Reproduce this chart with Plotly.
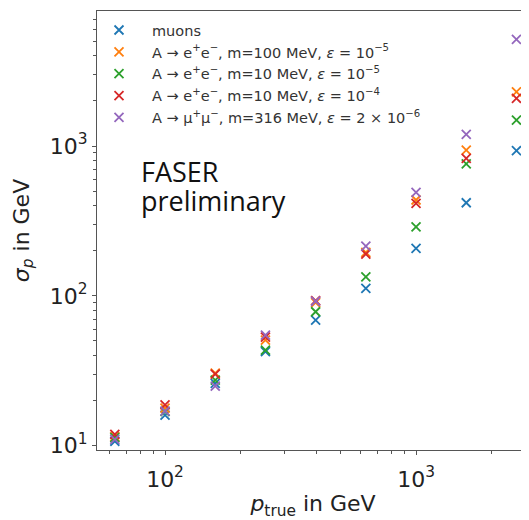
import plotly.graph_objects as go

p_true = [63.1, 100, 158.5, 251.2, 398.1, 631.0, 1000, 1585, 2512]

names = [
    "muons",
    "A → e<sup>+</sup>e<sup>−</sup>, m=100 MeV, <i>ε</i> = 10<sup>−5</sup>",
    "A → e<sup>+</sup>e<sup>−</sup>, m=10 MeV, <i>ε</i> = 10<sup>−5</sup>",
    "A → e<sup>+</sup>e<sup>−</sup>, m=10 MeV, <i>ε</i> = 10<sup>−4</sup>",
    "A → μ<sup>+</sup>μ<sup>−</sup>, m=316 MeV, <i>ε</i> = 2 × 10<sup>−6</sup>",
]
muons = [10.7, 16.0, 26.0, 42.5, 68.9, 112, 207, 418, 930]
ee_100_1e5 = [11.5, 17.8, 30.5, 50.7, 90, 195, 436, 940, 2300]
ee_10_1e5 = [11.3, 16.9, 27.4, 43.4, 78.3, 134, 289, 759, 1490]
ee_10_1e4 = [11.9, 18.7, 30.0, 53.0, 93, 190, 414, 828, 2080]
mumu_316 = [11.0, 17.0, 25.0, 54.7, 92, 215, 491, 1197, 5150]
series = [muons, ee_100_1e5, ee_10_1e5, ee_10_1e4, mumu_316]
colors = ["#1f77b4", "#ff7f0e", "#2ca02c", "#d62728", "#9467bd"]

fig = go.Figure()
for n, ys, c in zip(names, series, colors):
    fig.add_trace(go.Scatter(
        x=p_true, y=ys, mode="markers", name=n,
        marker=dict(symbol="x-thin", size=9, line=dict(width=1.8, color=c), color=c),
    ))

font = "DejaVu Sans, sans-serif"
font2 = "Open Sans, Noto Sans, sans-serif"
minor_x = [m * 10**e for e in (1, 2, 3) for m in range(2, 10)]
minor_y = [m * 10**e for e in (0, 1, 2, 3) for m in range(2, 10)]

W, H = 521, 512
L, R, T, B = 89, 0, 3, 70
pw, ph = W - L - R, H - T - B

def px(x):
    return (x - L) / pw

def py(y):
    return 1 - (y - T) / ph

fig.update_layout(
    width=W, height=H,
    margin=dict(l=L, r=R, t=T, b=B),
    plot_bgcolor="white", paper_bgcolor="white",
    font=dict(family=font, color="#222"),
    showlegend=True,
    legend=dict(x=px(78), y=0.993, xanchor="left", yanchor="top",
                bgcolor="rgba(255,255,255,0)", font=dict(size=14.5, family=font, color="#333"),
                itemwidth=56, tracegroupgap=0),
    xaxis=dict(type="log", range=[1.729, 3.45], showgrid=False, zeroline=False,
               showline=True, linecolor="#555", linewidth=1.2, mirror=True,
               ticks="outside", ticklen=4, tickcolor="#555", ticklabelstandoff=5,
               tickvals=[100, 1000], ticktext=["10<sup>2</sup>", "10<sup>3</sup>"],
               tickfont=dict(size=22, color="#222"),
               minor=dict(tickvals=minor_x, ticks="outside", ticklen=2.5, tickcolor="#555"),
               title=dict(text="<i>p</i><sub>true</sub> in GeV", font=dict(size=22, color="#222"), standoff=11)),
    yaxis=dict(type="log", range=[0.971, 3.901], showgrid=False, zeroline=False,
               showline=True, linecolor="#555", linewidth=1.2,
               ticks="outside", ticklen=4, tickcolor="#555",
               tickvals=[10, 100, 1000], ticktext=["10<sup>1</sup>", "10<sup>2</sup>", "10<sup>3</sup>"],
               tickfont=dict(size=22, color="#222"),
               minor=dict(tickvals=minor_y, ticks="outside", ticklen=2.5, tickcolor="#555"),
               title=dict(text="<i>σ<sub>p</sub></i> in GeV", font=dict(size=22, color="#222"), standoff=14)),
    annotations=[
        dict(text="FASER", xref="paper", yref="paper", x=px(131), y=py(164),
             xanchor="left", yanchor="middle", showarrow=False,
             font=dict(size=27, color="#111", family=font2)),
        dict(text="preliminary", xref="paper", yref="paper", x=px(131), y=py(192),
             xanchor="left", yanchor="middle", showarrow=False,
             font=dict(size=27, color="#111", family=font2)),
    ],
)

fig.write_html("out.html")
